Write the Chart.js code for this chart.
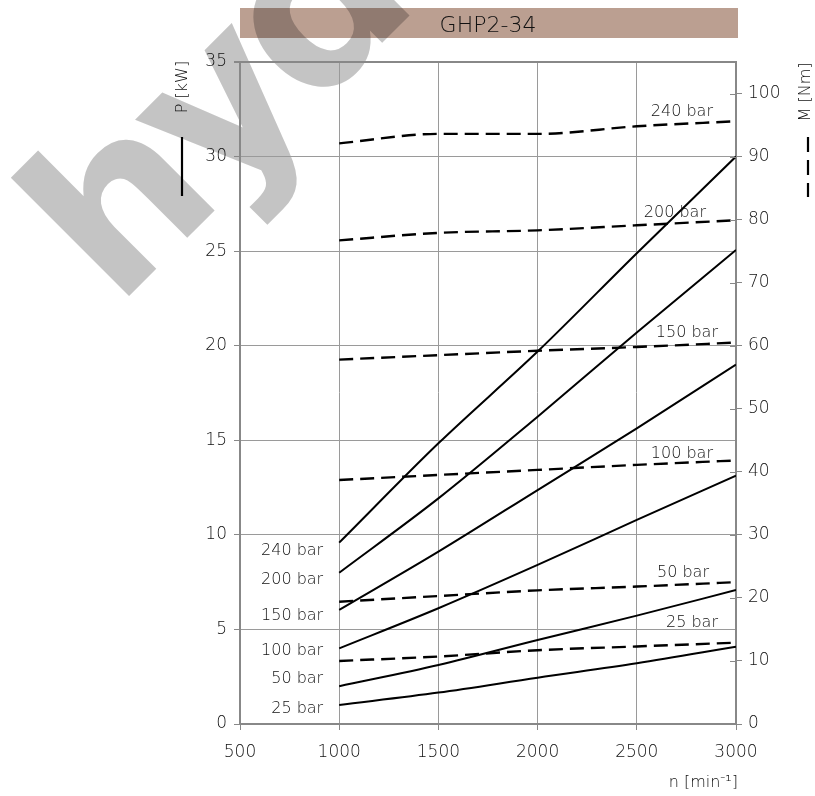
<!DOCTYPE html>
<html>
<head>
<meta charset="utf-8">
<script src="https://cdn.jsdelivr.net/npm/chart.js@4.4.0/dist/chart.umd.min.js"></script>
<style>
  html, body { margin: 0; padding: 0; background: #fff; }
  #wrap { width: 815px; height: 796px; }
</style>
</head>
<body>
<div id="wrap"><canvas id="chart" width="815" height="796"></canvas></div>
<script>
// ------------------------------------------------------------
// Daten: GHP2-34, Leistung / Drehmoment über Drehzahl
// ------------------------------------------------------------
const speeds = [1000, 1500, 2000, 2500, 3000];           // n [min-1]
const pressureLabels = ['25 bar', '50 bar', '100 bar', '150 bar', '200 bar', '240 bar'];

// Leistung P [kW]
const power25  = [1.0, 1.66, 2.45, 3.21, 4.09];
const power50  = [2.0, 3.12, 4.44, 5.73, 7.08];
const power100 = [4.0, 6.12, 8.41, 10.79, 13.13];
const power150 = [6.03, 9.11, 12.37, 15.63, 19.0];
const power200 = [8.0, 11.93, 16.25, 20.7, 25.06];
const power240 = [9.59, 14.84, 19.69, 24.89, 30.0];

// Drehmoment M [Nm]
const torque25  = [10.0, 10.7, 11.7, 12.3, 12.9];
const torque50  = [19.4, 20.3, 21.2, 21.8, 22.5];
const torque100 = [38.7, 39.5, 40.3, 41.1, 41.8];
const torque150 = [57.8, 58.5, 59.2, 59.8, 60.5];
const torque200 = [76.7, 77.9, 78.3, 79.1, 79.9];
const torque240 = [92.1, 93.6, 93.6, 94.8, 95.6];

const powerSeries = [power25, power50, power100, power150, power200, power240];
const torqueSeries = [torque25, torque50, torque100, torque150, torque200, torque240];

// Beschriftungs-Versatz (px) relativ zum Kurvenanfang / -ende
const leftLabelShift = [8, -3, 7, 10, 11, 12];
const rightLabelInset = [18, 27, 23, 18, 30, 23];
const rightLabelShift = [-16, -5, -2, -6, -3.5, -5];

const FONT = '"DejaVu Sans", "Noto Sans", sans-serif';
const TEXT = '#111';
const AXIS = '#888';
const GRID = '#9a9a9a';

function toPoints(values) {
    return speeds.map((n, k) => ({ x: n, y: values[k] }));
}

const datasets = [];
powerSeries.forEach((s, i) => {
    datasets.push({
        label: 'P ' + pressureLabels[i],
        data: toPoints(s),
        yAxisID: 'y',
        borderColor: '#000',
        borderWidth: 2,
        pointRadius: 0,
        tension: 0.35,
        cubicInterpolationMode: 'monotone',
        fill: false
    });
});
torqueSeries.forEach((s, i) => {
    datasets.push({
        label: 'M ' + pressureLabels[i],
        data: toPoints(s),
        yAxisID: 'y2',
        borderColor: '#000',
        borderWidth: 2.4,
        borderDash: [14, 7],
        pointRadius: 0,
        tension: 0.35,
        cubicInterpolationMode: 'monotone',
        fill: false
    });
});

const decorPlugin = {
    id: 'decor',
    beforeDraw(chart) {
        const ctx = chart.ctx;
        const area = chart.chartArea;
        ctx.save();
        ctx.fillStyle = '#fff';
        ctx.fillRect(0, 0, chart.width, chart.height);

        // Titelbalken
        ctx.fillStyle = '#bb9f91';
        ctx.fillRect(area.left, 8, area.right - area.left + 2, 30);
        ctx.fillStyle = '#111';
        ctx.font = '200 22px ' + FONT;
        ctx.textAlign = 'center';
        ctx.textBaseline = 'alphabetic';
        ctx.fillText('GHP2-34', (area.left + area.right) / 2, 32);

        // Wasserzeichen
        ctx.globalCompositeOperation = 'multiply';
        ctx.translate(116, 309);
        ctx.rotate(-Math.PI / 4);
        ctx.font = 'bold 220px ' + FONT;
        ctx.letterSpacing = '-12px';
        ctx.fillStyle = '#c4c4c4';
        ctx.textAlign = 'left';
        ctx.fillText('hydraulik', 0, 0);
        ctx.restore();
    },
    afterDraw(chart) {
        const ctx = chart.ctx;
        const area = chart.chartArea;
        const xs = chart.scales.x, yP = chart.scales.y, yM = chart.scales.y2;
        const last = speeds.length - 1;
        ctx.save();

        // innere Teilstriche rechte Achse
        ctx.strokeStyle = AXIS;
        ctx.lineWidth = 1;
        yM.ticks.forEach(t => {
            const py = Math.round(yM.getPixelForValue(t.value)) + 0.5;
            ctx.beginPath();
            ctx.moveTo(area.right - 6, py);
            ctx.lineTo(area.right, py);
            ctx.stroke();
        });

        // Kurvenbeschriftungen
        ctx.fillStyle = TEXT;
        ctx.font = '200 16px ' + FONT;
        ctx.textBaseline = 'alphabetic';
        ctx.textAlign = 'right';
        powerSeries.forEach((s, i) => {
            ctx.fillText(pressureLabels[i], xs.getPixelForValue(speeds[0]) - 16,
                yP.getPixelForValue(s[0]) + leftLabelShift[i]);
        });
        torqueSeries.forEach((s, i) => {
            ctx.fillText(pressureLabels[i], xs.getPixelForValue(speeds[last]) - rightLabelInset[i],
                yM.getPixelForValue(s[last]) + rightLabelShift[i]);
        });

        // x-Achsentitel
        ctx.fillText('n [min\u207B\u00B9]', area.right + 2, 787);

        // y-Achsentitel (gedreht)
        ctx.textAlign = 'center';
        ctx.textBaseline = 'middle';
        ctx.save();
        ctx.translate(183, 87);
        ctx.rotate(-Math.PI / 2);
        ctx.fillText('P [kW]', 0, 0);
        ctx.restore();
        ctx.save();
        ctx.translate(806, 92);
        ctx.rotate(-Math.PI / 2);
        ctx.fillText('M [Nm]', 0, 0);
        ctx.restore();

        // Linienmuster neben den Achsentiteln
        ctx.strokeStyle = '#000';
        ctx.lineWidth = 2.2;
        ctx.beginPath();
        ctx.moveTo(182, 137);
        ctx.lineTo(182, 196);
        ctx.stroke();
        ctx.setLineDash([15, 8]);
        ctx.beginPath();
        ctx.moveTo(808, 137);
        ctx.lineTo(808, 197);
        ctx.stroke();
        ctx.restore();
    }
};

new Chart(document.getElementById('chart').getContext('2d'), {
    type: 'line',
    data: { datasets },
    options: {
        responsive: false,
        animation: false,
        events: [],
        layout: { padding: { top: 62, left: 0, right: 0, bottom: 0 } },
        plugins: {
            legend: { display: false },
            tooltip: { enabled: false },
            title: { display: false }
        },
        scales: {
            x: {
                type: 'linear',
                min: 500,
                max: 3000,
                afterFit: s => { s.height = 72; },
                ticks: {
                    stepSize: 500,
                    color: TEXT,
                    padding: 12,
                    font: { family: FONT, size: 17, weight: 200 },
                    callback: v => String(v)
                },
                grid: { color: GRID, lineWidth: 1, tickLength: 6, tickColor: AXIS },
                border: { color: AXIS, width: 2 }
            },
            y: {
                position: 'left',
                min: 0,
                max: 35,
                afterFit: s => { s.width = 240; },
                ticks: { stepSize: 5, color: TEXT, padding: 7, font: { family: FONT, size: 17, weight: 200 } },
                grid: {
                    color: c => (c.tick && c.tick.value === 35 ? AXIS : GRID),
                    lineWidth: c => (c.tick && c.tick.value === 35 ? 2 : 1),
                    tickLength: 6,
                    tickColor: AXIS
                },
                border: { color: AXIS, width: 2 }
            },
            y2: {
                position: 'right',
                min: 0,
                max: 105,
                afterFit: s => { s.width = 79; },
                ticks: { stepSize: 10, includeBounds: false, color: TEXT, padding: 6, font: { family: FONT, size: 17, weight: 200 } },
                grid: { drawOnChartArea: false, tickLength: 6, tickColor: AXIS },
                border: { color: AXIS, width: 2 }
            }
        }
    },
    plugins: [decorPlugin]
});
</script>
</body>
</html>
